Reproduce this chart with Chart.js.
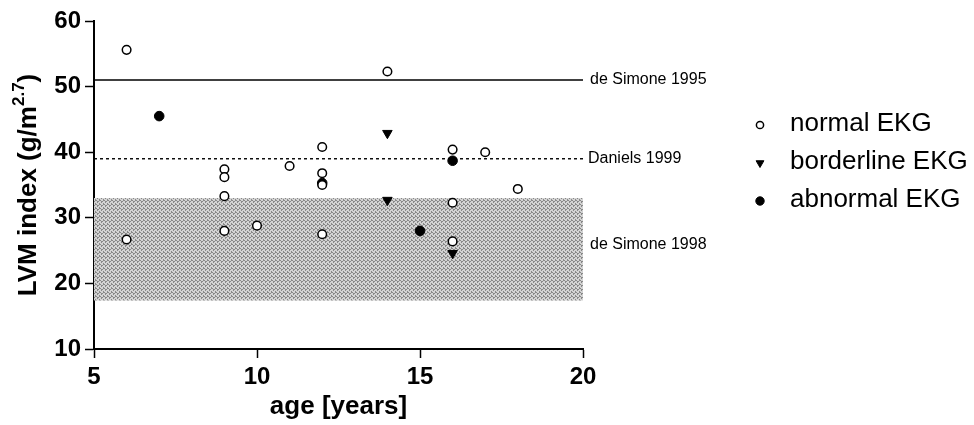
<!DOCTYPE html>
<html>
<head>
<meta charset="utf-8">
<script src="https://cdn.jsdelivr.net/npm/chart.js@4.4.1/dist/chart.umd.min.js"></script>
<style>
  body { margin: 0; background: #fff; }
  canvas { display: block; }
</style>
</head>
<body>
<canvas id="lvmChart" width="974" height="425"></canvas>
<script>
// LVM index vs age, split by EKG result
const normalAge = [6, 6, 9, 9, 9, 9, 10, 11, 12, 12, 12, 12, 14, 16, 16, 16, 17, 18];
const normalLvm = [55.6, 26.7, 37.4, 36.2, 33.3, 28.0, 28.8, 37.9, 40.8, 36.8, 35.0, 27.5, 52.3, 40.4, 32.3, 26.4, 40.0, 34.4];

const borderlineAge = [14, 14, 16];
const borderlineLvm = [42.9, 32.7, 24.6];

const abnormalAge = [7, 12, 15, 16];
const abnormalLvm = [45.5, 35.3, 28.0, 38.7];

// reference values
const refNames = ["de Simone 1995", "Daniels 1999", "de Simone 1998"];
const refValues = [51, 39];
const bandRange = [17.4, 33];   // de Simone 1998 normal range
const ageRange = [5, 20];

const xTicks = [5, 10, 15, 20];
const yTicks = [10, 20, 30, 40, 50, 60];

const FONT = "'Liberation Sans', Arial, sans-serif";

function toPoints(xs, ys) {
  return xs.map((x, i) => ({ x: x, y: ys[i] }));
}

function flatLine(v) {
  return ageRange.map(a => ({ x: a, y: v }));
}

// stippled grey like the printed figure
function stipple() {
  const c = document.createElement("canvas");
  c.width = 4;
  c.height = 4;
  const g = c.getContext("2d");
  g.fillStyle = "#d3d3d3";
  g.fillRect(0, 0, 4, 4);
  g.fillStyle = "#888";
  [[0, 0], [2, 1], [1, 2], [3, 3], [3, 0], [1, 1]].forEach(p => g.fillRect(p[0], p[1], 1, 1));
  return g.createPattern(c, "repeat");
}

// legend + reference labels + y title with superscript
const sideText = {
  id: 'sideText',
  afterDraw(chart) {
    const ctx = chart.ctx;
    const area = chart.chartArea;
    const y = chart.scales.y;

    ctx.save();
    ctx.fillStyle = '#000';
    ctx.textBaseline = 'middle';
    ctx.textAlign = 'left';
    ctx.font = "16px " + FONT;
    ctx.fillText(refNames[0], area.right + 7, y.getPixelForValue(refValues[0]));
    ctx.fillText(refNames[1], area.right + 5, y.getPixelForValue(refValues[1]));
    ctx.fillText(refNames[2], area.right + 7, y.getPixelForValue((bandRange[0] + bandRange[1]) / 2) - 5);

    // legend
    const items = chart.data.datasets.filter(d => d.inLegend);
    items.forEach((d, i) => {
      const ly = 124 + i * 38;
      const opts = {
        pointStyle: d.pointStyle,
        rotation: d.pointRotation || 0,
        radius: d.legendRadius,
        borderWidth: d.pointBorderWidth
      };
      ctx.fillStyle = d.pointBackgroundColor;
      ctx.strokeStyle = d.pointBorderColor;
      ctx.lineWidth = d.pointBorderWidth;
      Chart.helpers.drawPoint(ctx, opts, 760, ly + 1);
      ctx.fillStyle = '#000';
      ctx.font = "26px " + FONT;
      ctx.fillText(d.label, 790, ly);
    });

    // rotated y title
    ctx.translate(29, (area.top + area.bottom) / 2);
    ctx.rotate(-Math.PI / 2);
    const big = "bold 26px " + FONT;
    const small = "bold 17px " + FONT;
    const parts = [["LVM index (g/m", big, 0], ["2.7", small, -10], [")", big, 0]];
    let total = 0;
    parts.forEach(p => { ctx.font = p[1]; total += ctx.measureText(p[0]).width; });
    let tx = -total / 2;
    parts.forEach(p => {
      ctx.font = p[1];
      ctx.fillText(p[0], tx, p[2]);
      tx += ctx.measureText(p[0]).width;
    });
    ctx.restore();
  }
};

const chart = new Chart("lvmChart", {
  type: "scatter",
  data: {
    datasets: [
      {
        label: "normal EKG",
        inLegend: true,
        data: toPoints(normalAge, normalLvm),
        pointStyle: "circle",
        pointRadius: 4.3,
        legendRadius: 3.6,
        pointBorderWidth: 1.5,
        pointBorderColor: "#000",
        pointBackgroundColor: "#fff",
        order: 1,
      },
      {
        label: "borderline EKG",
        inLegend: true,
        data: toPoints(borderlineAge, borderlineLvm),
        pointStyle: "triangle",
        pointRotation: 180,
        pointRadius: 5.5,
        legendRadius: 4.5,
        pointBorderWidth: 1,
        pointBorderColor: "#000",
        pointBackgroundColor: "#000",
        order: 1,
      },
      {
        label: "abnormal EKG",
        inLegend: true,
        data: toPoints(abnormalAge, abnormalLvm),
        pointStyle: "circle",
        pointRadius: 4.8,
        legendRadius: 4.2,
        pointBorderWidth: 1,
        pointBorderColor: "#000",
        pointBackgroundColor: "#000",
        order: 1,
      },
      {
        label: refNames[0],
        data: flatLine(refValues[0]),
        showLine: true,
        borderColor: "#000",
        borderWidth: 1.6,
        pointRadius: 0,
        order: 2,
      },
      {
        label: refNames[1],
        data: flatLine(refValues[1]),
        showLine: true,
        borderColor: "#000",
        borderWidth: 1.4,
        borderDash: [3, 3],
        pointRadius: 0,
        order: 2,
      },
      {
        label: refNames[2],
        data: flatLine(bandRange[1]),
        showLine: true,
        borderWidth: 0,
        borderColor: "rgba(0,0,0,0)",
        backgroundColor: stipple(),
        fill: { value: bandRange[0] },
        pointRadius: 0,
        order: 3,
      },
    ],
  },
  options: {
    responsive: false,
    animation: false,
    layout: { padding: { left: 0, top: 21, right: 391, bottom: 0 } },
    plugins: {
      legend: { display: false },
      tooltip: { enabled: false },
    },
    scales: {
      x: {
        type: "linear",
        min: ageRange[0],
        max: ageRange[1],
        afterBuildTicks: s => { s.ticks = xTicks.map(v => ({ value: v })); },
        afterFit: s => { s.height = 76; },
        border: { display: true, color: "#000", width: 2 },
        grid: { drawOnChartArea: false, drawTicks: true, tickLength: 9, tickWidth: 1.5, tickColor: "#000" },
        ticks: { color: "#000", padding: 5, font: { family: FONT, size: 24, weight: "bold" } },
        title: {
          display: true,
          text: "age [years]",
          color: "#000",
          padding: { top: 0, bottom: 3 },
          font: { family: FONT, size: 26, weight: "bold" },
        },
      },
      y: {
        min: 10,
        max: 60,
        afterBuildTicks: s => { s.ticks = yTicks.map(v => ({ value: v })); },
        afterFit: s => { s.width = 94; },
        border: { display: true, color: "#000", width: 2 },
        grid: { drawOnChartArea: false, drawTicks: true, tickLength: 9, tickWidth: 1.5, tickColor: "#000" },
        ticks: { color: "#000", padding: 4, font: { family: FONT, size: 24, weight: "bold" } },
      },
    },
  },
  plugins: [sideText],
});
</script>
</body>
</html>
